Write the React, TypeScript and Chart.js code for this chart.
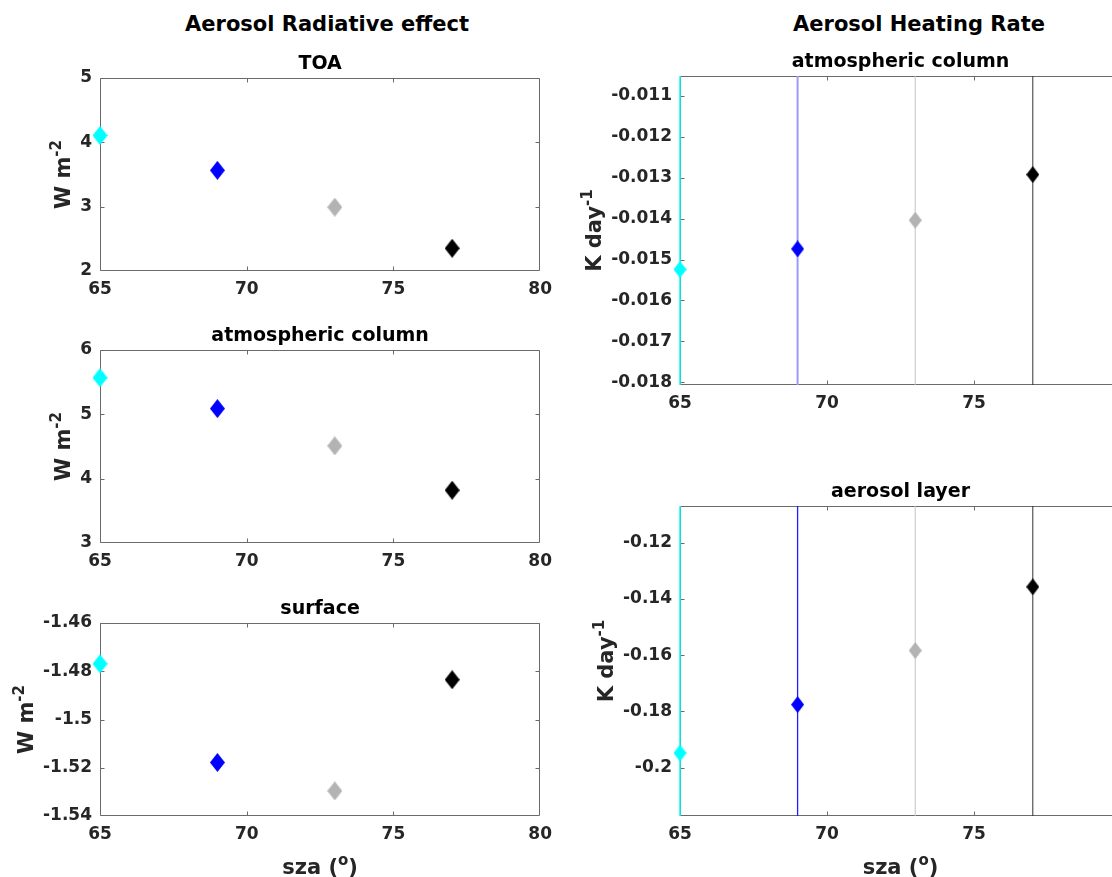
import React, { useEffect, useRef } from "react";
import { Chart, registerables } from "chart.js";

Chart.register(...registerables);

// ---------------- data ----------------
const szaValues = [65, 69, 73, 77];

const toaEffect = [4.107, 3.565, 2.992, 2.353];
const columnEffect = [5.569, 5.089, 4.51, 3.82];
const surfaceEffect = [-1.4769, -1.5178, -1.5296, -1.4835];

const columnHeating = [-0.015244, -0.014741, -0.014039, -0.012922];
const columnHeatingErr = [0.008, 0.008, 0.008, 0.008];
const layerHeating = [-0.1948, -0.17756, -0.15833, -0.13567];
const layerHeatingErr = [0.15, 0.15, 0.15, 0.15];

const szaRange = [65, 80];
const szaTicksLeft = [65, 70, 75, 80];
const szaTickLabelsLeft = ["65", "70", "75", "80"];
const szaTicksRight = [65, 70, 75];
const szaTickLabelsRight = ["65", "70", "75"];

const toaRange = [2, 5];
const toaTicks = [2, 3, 4, 5];
const toaTickLabels = ["2", "3", "4", "5"];

const columnRange = [3, 6];
const columnTicks = [3, 4, 5, 6];
const columnTickLabels = ["3", "4", "5", "6"];

const surfaceRange = [-1.54, -1.46];
const surfaceTicks = [-1.54, -1.52, -1.5, -1.48, -1.46];
const surfaceTickLabels = ["-1.54", "-1.52", "-1.5", "-1.48", "-1.46"];

const columnHeatingRange = [-0.01807, -0.01051];
const columnHeatingTicks = [-0.018, -0.017, -0.016, -0.015, -0.014, -0.013, -0.012, -0.011];
const columnHeatingTickLabels = ["-0.018", "-0.017", "-0.016", "-0.015", "-0.014", "-0.013", "-0.012", "-0.011"];

const layerHeatingRange = [-0.2172, -0.1069];
const layerHeatingTicks = [-0.2, -0.18, -0.16, -0.14, -0.12];
const layerHeatingTickLabels = ["-0.2", "-0.18", "-0.16", "-0.14", "-0.12"];

// ---------------- styles ----------------
const FONT = '"DejaVu Sans", sans-serif';
const markerColors = ["#00ffff", "#0000ff", "#b3b3b3", "#000000"];
const columnBarColors = ["#00ffff", "#9a9aff", "#c4c4c4", "#333333"];
const columnBarWidths = [1.5, 2, 1, 1];
const layerBarColors = ["#00ffff", "#2020ff", "#c4c4c4", "#333333"];
const layerBarWidths = [1.5, 1.3, 1, 1];

const TICK_SIZE = 17;
const TITLE_SIZE = 19;
const LABEL_SIZE = 21;
const SUP_SIZE = 15;
const TITLE_H = TITLE_SIZE * 1.2 + 2.6;
const X_AXIS_H = 62;

function diamond(color: string, w: number, h: number) {
  const c = document.createElement("canvas");
  c.width = w;
  c.height = h;
  const g = c.getContext("2d")!;
  g.fillStyle = color;
  g.beginPath();
  g.moveTo(w / 2, 0);
  g.lineTo(w, h / 2);
  g.lineTo(w / 2, h);
  g.lineTo(0, h / 2);
  g.closePath();
  g.fill();
  return c;
}

function drawSupText(
  ctx: CanvasRenderingContext2D,
  main: string,
  sup: string,
  after: string,
  cx: number,
  cy: number
) {
  ctx.font = `bold ${LABEL_SIZE}px ${FONT}`;
  const w1 = ctx.measureText(main).width;
  const w3 = after ? ctx.measureText(after).width : 0;
  ctx.font = `bold ${SUP_SIZE}px ${FONT}`;
  const w2 = ctx.measureText(sup).width;
  const start = cx - (w1 + w2 + w3) / 2;
  const base = cy + LABEL_SIZE * 0.36;
  ctx.textAlign = "left";
  ctx.textBaseline = "alphabetic";
  ctx.font = `bold ${LABEL_SIZE}px ${FONT}`;
  ctx.fillText(main, start, base);
  ctx.font = `bold ${SUP_SIZE}px ${FONT}`;
  ctx.fillText(sup, start + w1, base - 9);
  if (after) {
    ctx.font = `bold ${LABEL_SIZE}px ${FONT}`;
    ctx.fillText(after, start + w1 + w2, base);
  }
}

const framePlugin = {
  id: "matlabFrame",
  beforeDatasetsDraw(chart: any) {
    const { ctx, chartArea: a } = chart;
    const xs = chart.scales.x;
    const ys = chart.scales.y;
    const L = Math.round(a.left) + 0.5;
    const R = Math.round(a.right) - 0.5;
    const T = Math.round(a.top) + 0.5;
    const B = Math.round(a.bottom) - 0.5;
    const tl = 4;
    ctx.save();
    ctx.strokeStyle = "#6a6a6a";
    ctx.lineWidth = 1;
    ctx.beginPath();
    ctx.moveTo(L, T);
    ctx.lineTo(R, T);
    ctx.lineTo(R, B);
    ctx.lineTo(L, B);
    ctx.closePath();
    for (const t of xs.ticks) {
      const px = Math.round(xs.getPixelForValue(t.value)) + 0.5;
      if (px < L - 0.1 || px > R + 0.1) continue;
      ctx.moveTo(px, T);
      ctx.lineTo(px, T + tl);
      ctx.moveTo(px, B);
      ctx.lineTo(px, B - tl);
    }
    for (const t of ys.ticks) {
      const py = Math.round(ys.getPixelForValue(t.value)) + 0.5;
      if (py < T - 0.1 || py > B + 0.1) continue;
      ctx.moveTo(L, py);
      ctx.lineTo(L + tl, py);
      ctx.moveTo(R, py);
      ctx.lineTo(R - tl, py);
    }
    ctx.stroke();
    ctx.restore();
  },
  afterDraw(chart: any, _args: any, opts: any) {
    const { ctx, chartArea: a } = chart;
    ctx.save();
    ctx.fillStyle = "#262626";
    ctx.font = `bold ${TICK_SIZE}px ${FONT}`;
    let maxW = 0;
    for (const lbl of opts.yTickLabels) maxW = Math.max(maxW, ctx.measureText(lbl).width);
    const cx = a.left - 8 - maxW - 18;
    const cy = (a.top + a.bottom) / 2;
    ctx.save();
    ctx.translate(cx, cy);
    ctx.rotate(-Math.PI / 2);
    drawSupText(ctx, opts.yLabel[0], opts.yLabel[1], "", 0, 0);
    ctx.restore();
    if (opts.xLabel) {
      drawSupText(ctx, "sza (", "o", ")", (a.left + a.right) / 2, a.bottom + 50);
    }
    ctx.restore();
  },
};

type Spec = {
  key: string;
  left: number;
  width: number;
  plotLeft: number;
  plotRight: number;
  plotTop: number;
  plotBottom: number;
  title: string;
  values: number[];
  err?: number[];
  barColors?: string[];
  barWidths?: number[];
  yRange: number[];
  yTicks: number[];
  yTickLabels: string[];
  xTicks: number[];
  xTickLabels: string[];
  yLabel: string[];
  xLabel: boolean;
  mw: number;
  mh: number;
};

const specs: Spec[] = [
  {
    key: "toa", left: 0, width: 560, plotLeft: 100, plotRight: 541, plotTop: 78, plotBottom: 271,
    title: "TOA", values: toaEffect, yRange: toaRange, yTicks: toaTicks, yTickLabels: toaTickLabels,
    xTicks: szaTicksLeft, xTickLabels: szaTickLabelsLeft, yLabel: ["W m", "-2"], xLabel: false, mw: 15, mh: 19,
  },
  {
    key: "col", left: 0, width: 560, plotLeft: 100, plotRight: 541, plotTop: 350, plotBottom: 543,
    title: "atmospheric column", values: columnEffect, yRange: columnRange, yTicks: columnTicks, yTickLabels: columnTickLabels,
    xTicks: szaTicksLeft, xTickLabels: szaTickLabelsLeft, yLabel: ["W m", "-2"], xLabel: false, mw: 15, mh: 19,
  },
  {
    key: "sfc", left: 0, width: 560, plotLeft: 100, plotRight: 541, plotTop: 623, plotBottom: 816,
    title: "surface", values: surfaceEffect, yRange: surfaceRange, yTicks: surfaceTicks, yTickLabels: surfaceTickLabels,
    xTicks: szaTicksLeft, xTickLabels: szaTickLabelsLeft, yLabel: ["W m", "-2"], xLabel: true, mw: 15, mh: 19,
  },
  {
    key: "hrcol", left: 560, width: 580, plotLeft: 680, plotRight: 1121, plotTop: 76, plotBottom: 385,
    title: "atmospheric column", values: columnHeating, err: columnHeatingErr, barColors: columnBarColors, barWidths: columnBarWidths,
    yRange: columnHeatingRange, yTicks: columnHeatingTicks, yTickLabels: columnHeatingTickLabels,
    xTicks: szaTicksRight, xTickLabels: szaTickLabelsRight, yLabel: ["K day", "-1"], xLabel: false, mw: 13, mh: 17,
  },
  {
    key: "hrlay", left: 560, width: 580, plotLeft: 680, plotRight: 1121, plotTop: 506, plotBottom: 816,
    title: "aerosol layer", values: layerHeating, err: layerHeatingErr, barColors: layerBarColors, barWidths: layerBarWidths,
    yRange: layerHeatingRange, yTicks: layerHeatingTicks, yTickLabels: layerHeatingTickLabels,
    xTicks: szaTicksRight, xTickLabels: szaTickLabelsRight, yLabel: ["K day", "-1"], xLabel: true, mw: 13, mh: 17,
  },
];

function canvasBox(s: Spec) {
  const top = s.plotTop - 40;
  const height = s.plotBottom + X_AXIS_H - top;
  return { top, height };
}

function buildConfig(s: Spec): any {
  const { top } = canvasBox(s);
  const datasets: any[] = [
    {
      type: "scatter",
      order: 0,
      data: szaValues.map((x, i) => ({ x, y: s.values[i] })),
      pointStyle: markerColors.map((c) => diamond(c, s.mw, s.mh)),
      pointRadius: 8,
      clip: false,
      showLine: false,
    },
  ];
  if (s.err) {
    szaValues.forEach((x, i) => {
      datasets.push({
        type: "scatter",
        order: 1,
        data: [
          { x, y: s.values[i] - s.err![i] },
          { x, y: s.values[i] + s.err![i] },
        ],
        showLine: true,
        borderColor: s.barColors![i],
        borderWidth: s.barWidths![i],
        pointRadius: 0,
        clip: { left: 4, right: 4, top: 0, bottom: 0 },
      });
    });
  }
  const tickFont = { family: FONT, size: TICK_SIZE, weight: "bold" as const, lineHeight: 1.2 };
  return {
    type: "scatter",
    data: { datasets },
    plugins: [framePlugin],
    options: {
      responsive: false,
      animation: false,
      devicePixelRatio: 1,
      events: [],
      layout: {
        autoPadding: false,
        padding: {
          left: 0,
          top: s.plotTop - top - TITLE_H,
          right: s.left + s.width - s.plotRight,
          bottom: 0,
        },
      },
      plugins: {
        legend: { display: false },
        tooltip: { enabled: false },
        title: {
          display: true,
          text: s.title,
          fullSize: false,
          color: "#000000",
          font: { family: FONT, size: TITLE_SIZE, weight: "bold", lineHeight: 1.2 },
          padding: { top: 0, bottom: 2.6 },
        },
        matlabFrame: { yTickLabels: s.yTickLabels, yLabel: s.yLabel, xLabel: s.xLabel },
      },
      scales: {
        x: {
          type: "linear",
          position: "bottom",
          min: szaRange[0],
          max: szaRange[1],
          grid: { display: false, drawTicks: false },
          border: { display: false },
          ticks: {
            autoSkip: false,
            maxRotation: 0,
            padding: 8,
            color: "#262626",
            font: tickFont,
            callback: (_v: any, i: number) => s.xTickLabels[i],
          },
          afterBuildTicks: (sc: any) => {
            sc.ticks = s.xTicks.map((v) => ({ value: v }));
          },
          afterFit: (sc: any) => {
            sc.height = X_AXIS_H;
          },
        },
        y: {
          type: "linear",
          position: "left",
          min: s.yRange[0],
          max: s.yRange[1],
          grid: { display: false, drawTicks: false },
          border: { display: false },
          ticks: {
            autoSkip: false,
            padding: 8,
            color: "#262626",
            font: tickFont,
            callback: (_v: any, i: number) => s.yTickLabels[i],
          },
          afterBuildTicks: (sc: any) => {
            sc.ticks = s.yTicks.map((v) => ({ value: v }));
          },
          afterFit: (sc: any) => {
            sc.width = s.plotLeft - s.left;
          },
        },
      },
    },
  };
}

function Panel({ spec }: { spec: Spec }) {
  const ref = useRef<HTMLCanvasElement>(null);
  const { top, height } = canvasBox(spec);
  useEffect(() => {
    const chart = new Chart(ref.current!, buildConfig(spec));
    return () => chart.destroy();
  }, []);
  return (
    <canvas
      ref={ref}
      width={spec.width}
      height={height}
      style={{ position: "absolute", left: spec.left, top, width: spec.width, height }}
    />
  );
}

const superTitleStyle = (cx: number): React.CSSProperties => ({
  position: "absolute",
  left: cx,
  top: 24,
  transform: "translate(-50%, -50%)",
  font: `bold 21px ${FONT}`,
  lineHeight: 1,
  whiteSpace: "nowrap",
  color: "#000",
});

export default function App() {
  return (
    <div
      style={{
        position: "fixed",
        left: 0,
        top: 0,
        width: 1112,
        height: 877,
        overflow: "hidden",
        background: "#ffffff",
      }}
    >
      <div style={superTitleStyle(327)}>Aerosol Radiative effect</div>
      <div style={superTitleStyle(919)}>Aerosol Heating Rate</div>
      {specs.map((s) => (
        <Panel key={s.key} spec={s} />
      ))}
    </div>
  );
}
